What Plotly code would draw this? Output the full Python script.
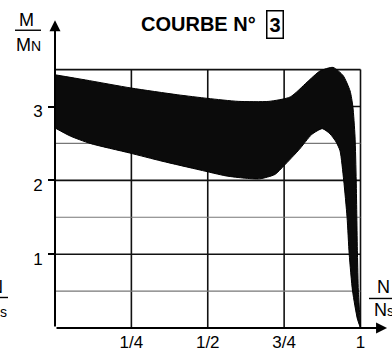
import plotly.graph_objects as go

# ---- data ----
upper_x = [0.0, 0.1, 0.25, 0.4, 0.5, 0.6, 0.7, 0.77, 0.825, 0.867, 0.91, 0.943, 0.966, 0.975, 0.982, 0.986, 0.988, 0.990, 0.993, 1.0]
upper_y = [3.43, 3.36, 3.25, 3.16, 3.11, 3.07, 3.07, 3.13, 3.33, 3.48, 3.53, 3.42, 3.21, 3.0, 2.6, 2.0, 1.5, 1.0, 0.5, 0.0]

lower_x = [0.0, 0.05, 0.115, 0.245, 0.35, 0.475, 0.56, 0.62, 0.67, 0.72, 0.75, 0.80, 0.84, 0.875, 0.90, 0.92, 0.933, 0.945, 0.956, 0.963, 0.974, 0.99, 1.0]
lower_y = [2.71, 2.6, 2.5, 2.37, 2.26, 2.14, 2.06, 2.03, 2.02, 2.08, 2.2, 2.42, 2.62, 2.7, 2.63, 2.52, 2.4, 2.0, 1.5, 1.0, 0.5, 0.12, 0.0]

x_ticks = [0.25, 0.5, 0.75, 1.0]
x_tick_labels = ["1/4", "1/2", "3/4", "1"]
y_ticks = [1, 2, 3]
y_tick_labels = ["1", "2", "3"]
minor_y = [0.5, 1.5, 2.5]
frame_top = 3.5
title_text = "COURBE N°"
title_num = "3"

FONT = "Liberation Sans, Arial, Helvetica, sans-serif"

# plot geometry
W, H = 392, 356
ML, MR, MT, MB = 55, 4, 14, 23
PX_X = 305.5  # px per x unit
PX_Y = 75.0   # px per y unit
xr = [0, (W - ML - MR) / PX_X]
yr = [0, (H - MT - MB) / PX_Y]


def px2paper_x(px):
    return (px - ML) / (W - ML - MR)


def px2paper_y(py):
    return (H - MB - py) / (H - MT - MB)


fig = go.Figure()

poly_x = upper_x + lower_x[::-1]
poly_y = upper_y + lower_y[::-1]
fig.add_trace(go.Scatter(
    x=poly_x, y=poly_y, mode="lines", fill="toself",
    fillcolor="#0b0b0b", line=dict(color="#000000", width=1, shape="spline", smoothing=0.6),
    hoverinfo="skip", showlegend=False,
))

shapes = []
# vertical grid lines
for xv in x_ticks:
    shapes.append(dict(type="line", xref="x", yref="y", x0=xv, x1=xv, y0=0, y1=frame_top,
                       line=dict(color="#111", width=1.6), layer="below"))
# major horizontal grid lines + frame top
for yv in y_ticks + [frame_top]:
    shapes.append(dict(type="line", xref="x", yref="y", x0=0, x1=1.0, y0=yv, y1=yv,
                       line=dict(color="#111", width=1.6), layer="below"))
# minor horizontal lines
for yv in minor_y:
    shapes.append(dict(type="line", xref="x", yref="y", x0=0, x1=1.0, y0=yv, y1=yv,
                       line=dict(color="#777", width=1.2), layer="below"))

# fraction bars (labels)
def bar(px0, px1, py):
    return dict(type="line", xref="paper", yref="paper",
                x0=px2paper_x(px0), x1=px2paper_x(px1),
                y0=px2paper_y(py), y1=px2paper_y(py),
                line=dict(color="#000", width=1.4))

shapes.append(bar(15, 41, 30.5))
shapes.append(bar(369, 395, 303))
shapes.append(bar(-20, 8, 302))

annotations = []
# axis arrows
annotations.append(dict(x=1.087, y=0, ax=0, ay=0, xref="x", yref="y", axref="x", ayref="y",
                        showarrow=True, arrowhead=2, arrowsize=1.1, arrowwidth=2, arrowcolor="#000",
                        text=""))
annotations.append(dict(x=0, y=4.17, ax=0, ay=0, xref="x", yref="y", axref="x", ayref="y",
                        showarrow=True, arrowhead=2, arrowsize=1.1, arrowwidth=2, arrowcolor="#000",
                        text=""))


def label(text, px, py, size=18, xanchor="center", bold=False):
    t = "<b>%s</b>" % text if bold else text
    return dict(text=t, x=px2paper_x(px), y=px2paper_y(py), xref="paper", yref="paper",
                xanchor=xanchor, yanchor="middle", showarrow=False,
                font=dict(family=FONT, size=size, color="#000"))

SMALL = "<span style='font-size:14px'>%s</span>"

# title
annotations.append(label(title_text, 258, 24.5, size=20, xanchor="right", bold=True))
a = label(title_num, 275, 24.5, size=20, bold=True)
a.update(bordercolor="#000", borderwidth=1.5, borderpad=2)
annotations.append(a)

# y label M / M_N
annotations.append(label("M", 27, 20, size=18))
annotations.append(label("M" + SMALL % "N", 28, 45, size=18))
# x label N / N_s
annotations.append(label("N", 383, 291, size=18))
annotations.append(label("N" + SMALL % "s", 372, 315, size=18, xanchor="left"))
# cut-off fragment at left edge
annotations.append(label("N", 5, 291, size=18, xanchor="right"))
annotations.append(label("N" + SMALL % "s", 9, 316, size=18, xanchor="right"))

fig.update_layout(
    width=W, height=H,
    margin=dict(l=ML, r=MR, t=MT, b=MB),
    paper_bgcolor="white", plot_bgcolor="white",
    shapes=shapes, annotations=annotations,
    xaxis=dict(range=xr, showgrid=False, zeroline=False, showline=False,
               tickvals=x_ticks, ticktext=x_tick_labels, ticks="", ticklabelstandoff=2,
               tickfont=dict(family=FONT, size=17, color="#000"), fixedrange=True),
    yaxis=dict(range=yr, showgrid=False, zeroline=False, showline=False,
               tickvals=y_ticks, ticktext=y_tick_labels, ticks="outside", ticklen=6,
               tickwidth=1.5, tickcolor="#000", ticklabelshift=5, ticklabelstandoff=2,
               tickfont=dict(family=FONT, size=17, color="#000"), fixedrange=True),
    showlegend=False,
)

fig.write_html("out.html")
